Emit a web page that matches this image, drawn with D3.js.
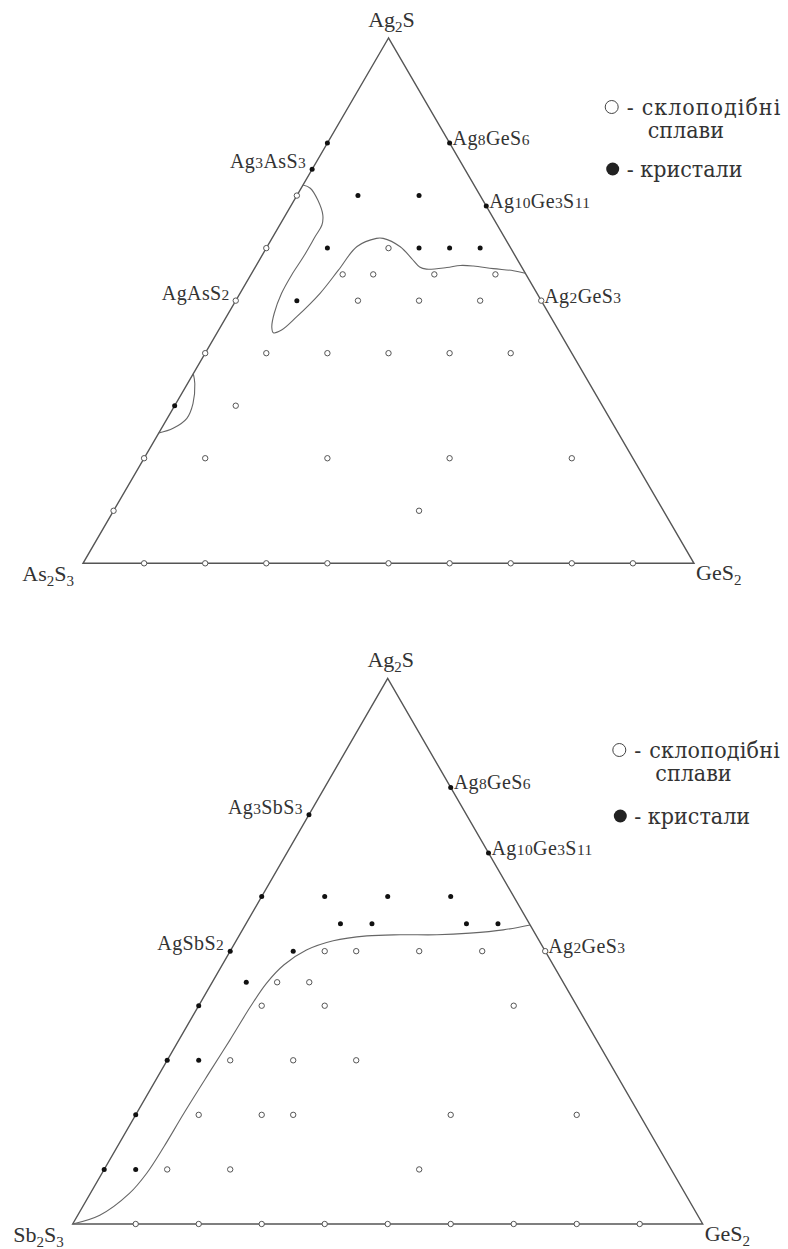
<!DOCTYPE html>
<html>
<head>
<meta charset="utf-8">
<script src="https://cdn.jsdelivr.net/npm/d3@7"></script>
<style>
  html, body { margin: 0; padding: 0; background: #fff; }
  svg { display: block; }
</style>
</head>
<body>
<script>
// Compositions are [Ag2S mol %, GeS2 mol %]; the rest is As2S3 (top) or Sb2S3 (bottom).

// ---- Ag2S – As2S3 – GeS2 ----
const glassAs = [
  [10, 0], [20, 0], [40, 0], [50, 0], [60, 0], [70, 0],
  [0, 10], [0, 20], [0, 30], [0, 40], [0, 50], [0, 60], [0, 70], [0, 80], [0, 90],
  [10, 50],
  [20, 10], [20, 30], [20, 50], [20, 70],
  [30, 10],
  [40, 10], [40, 20], [40, 30], [40, 40], [40, 50],
  [50, 20], [50, 30], [50, 40], [50, 50],
  [55, 15], [55, 20], [55, 30], [55, 40],
  [60, 20]
];
const crystalAs = [
  [30, 0], [75, 0], [80, 0],
  [50, 10],
  [60, 10], [60, 25], [60, 30], [60, 35],
  [70, 10], [70, 20],
  [80, 20], [68, 32]
];
// glass-forming region boundaries
const boundaryAsMain = [
  [72, 0], [71.4, 1.5], [69.1, 3.9], [66.3, 6.1], [64.4, 6.9], [62.2, 6.9], [58.3, 6.9],
  [54.9, 6.7], [51.4, 6.8], [47.6, 7.5], [45.0, 8.4], [43.9, 9.2], [44.4, 10.3],
  [46.9, 11.5], [51.4, 13.1], [55.8, 13.9], [60.3, 14.7], [61.85, 17.1], [61.85, 18.2],
  [60.25, 21.8], [58.0, 24.8], [56.4, 26.9], [56.0, 28.2], [56.3, 31.4], [56.7, 33.4],
  [56.6, 35.6], [56.1, 39.1], [55.7, 42.6], [55.2, 44.8]
];
const boundaryAsSmall = [
  [36.1, 0], [34.2, 1.2], [30.4, 2.8], [27.6, 3.2], [25.7, 1.9], [24.8, 0]
];
const labelsAs = [
  { name: "Ag3AsS3", at: [75, 0], side: "left" },
  { name: "AgAsS2", at: [50, 0], side: "left" },
  { name: "Ag8GeS6", at: [80, 20], side: "right" },
  { name: "Ag10Ge3S11", at: [68, 32], side: "right" },
  { name: "Ag2GeS3", at: [50, 50], side: "right" }
];

// ---- Ag2S – Sb2S3 – GeS2 ----
const glassSb = [
  [0, 10], [0, 20], [0, 30], [0, 40], [0, 50], [0, 60], [0, 70], [0, 80], [0, 90],
  [10, 10], [10, 20], [10, 50],
  [20, 10], [20, 20], [20, 25], [20, 50], [20, 70],
  [30, 10], [30, 20], [30, 30],
  [40, 10], [40, 20], [40, 50],
  [44.3, 10.3], [44.3, 15.4],
  [50, 15], [50, 20], [50, 30], [50, 40], [50, 50]
];
const crystalSb = [
  [10, 0], [20, 0], [30, 0], [40, 0], [50, 0], [60, 0], [75, 0],
  [10, 5], [30, 5], [44.3, 5.4],
  [50, 10],
  [55, 15], [55, 20], [55, 35], [55, 40],
  [60, 10], [60, 20], [60, 30],
  [80, 20], [68, 32]
];
const boundarySb = [
  [0, 0], [1.6, 3.5], [5.6, 6.2], [9.3, 7.1], [14.2, 7.4], [20.3, 7.5], [27.6, 7.8],
  [33.7, 8.1], [39.8, 8.3], [44.1, 8.7], [47.5, 9.8], [50.2, 12.0], [51.9, 15.4],
  [52.8, 20.3], [53.0, 25.5], [53.0, 31.3], [53.3, 36.4], [53.9, 41.4], [54.8, 45.2]
];
const labelsSb = [
  { name: "Ag3SbS3", at: [75, 0], side: "left" },
  { name: "AgSbS2", at: [50, 0], side: "left" },
  { name: "Ag8GeS6", at: [80, 20], side: "right" },
  { name: "Ag10Ge3S11", at: [68, 32], side: "right" },
  { name: "Ag2GeS3", at: [50, 50], side: "right" }
];

const legendGlass = ["-", "склоподібні", "сплави"];
const legendCrystal = "- кристали";

const FONT = "'Liberation Serif', 'Times New Roman', serif";
const CYR_FONT = "'DejaVu Serif Condensed', 'DejaVu Serif', serif";
const LINE = "#555";
const INK = "#333";

const svg = d3.select("body").append("svg")
  .attr("width", 788).attr("height", 1249)
  .attr("viewBox", "0 0 788 1249");
svg.append("rect").attr("width", 788).attr("height", 1249).attr("fill", "#fff");

// formula text: digits either subscripted (corner labels) or set small on the baseline (phase labels)
function formula(g, text, size, digitSize, sub) {
  const parts = text.match(/\d+|\D+/g);
  const t = g.append("text").attr("font-family", FONT).attr("fill", INK);
  let lowered = false;
  parts.forEach(p => {
    const isNum = /\d/.test(p);
    const ts = t.append("tspan").text(p).attr("font-size", isNum ? digitSize : size);
    if (sub) {
      if (isNum && !lowered) { ts.attr("dy", 5); lowered = true; }
      else if (!isNum && lowered) { ts.attr("dy", -5); lowered = false; }
    }
  });
  return t;
}

function panel(cfg) {
  const g = svg.append("g");
  const xs = d3.scaleLinear().domain([0, 1]).range([cfg.left, cfg.right]);
  const ys = d3.scaleLinear().domain([0, 1]).range([cfg.base, cfg.apex]);
  const px = d => xs(d[1] / 100 + d[0] / 200);
  const py = d => ys(d[0] / 100);

  // triangle
  const corners = [[100, 0], [0, 0], [0, 100]];
  g.append("path")
    .attr("d", d3.line().x(px).y(py)(corners) + "Z")
    .attr("fill", "none").attr("stroke", LINE).attr("stroke-width", 1.4)
    .attr("stroke-linejoin", "miter");

  // boundaries
  const curve = d3.line().x(px).y(py).curve(d3.curveCatmullRom.alpha(0.5));
  cfg.boundaries.forEach(b => {
    g.append("path").attr("d", curve(b))
      .attr("fill", "none").attr("stroke", "#666").attr("stroke-width", 1.1);
  });

  // samples
  g.selectAll("circle.glass").data(cfg.glass).join("circle")
    .attr("class", "glass")
    .attr("cx", px).attr("cy", py).attr("r", 2.7)
    .attr("fill", "#fff").attr("stroke", "#555").attr("stroke-width", 1);
  g.selectAll("circle.cryst").data(cfg.crystal).join("circle")
    .attr("class", "cryst")
    .attr("cx", px).attr("cy", py).attr("r", 2.5)
    .attr("fill", "#111");

  // phase labels
  cfg.labels.forEach(l => {
    const x = px(l.at), y = py(l.at);
    const t = formula(g, l.name, 20, 15.5, false).attr("letter-spacing", 0.4);
    if (l.side === "left") t.attr("x", x - 6).attr("y", y - 1).attr("text-anchor", "end");
    else t.attr("x", x + 3).attr("y", y + 2);
  });

  // corner labels
  formula(g, "Ag2S", 22, 15, true)
    .attr("x", px([100, 0]) + 3).attr("y", py([100, 0]) - 11).attr("text-anchor", "middle");
  formula(g, cfg.leftName, 22, 15, true)
    .attr("x", px([0, 0]) - 9).attr("y", py([0, 0]) + 18).attr("text-anchor", "end");
  formula(g, "GeS2", 22, 15, true)
    .attr("x", px([0, 100]) + 2).attr("y", py([0, 100]) + 17);

  // legend
  const lg = g.append("g").attr("transform", `translate(${cfg.legend[0]},${cfg.legend[1]})`);
  lg.append("circle").attr("cx", 0).attr("cy", 0).attr("r", 6.5)
    .attr("fill", "#fff").attr("stroke", "#444").attr("stroke-width", 1);
  const gt = lg.append("text")
    .attr("font-family", CYR_FONT).attr("font-size", 23).attr("fill", INK);
  gt.append("tspan").attr("x", 15).attr("y", 8).text(legendGlass[0]);
  gt.append("tspan").attr("x", 30).attr("y", 8).attr("letter-spacing", cfg.legendSpacing).text(legendGlass[1]);
  gt.append("tspan").attr("x", 36).attr("y", 31).attr("letter-spacing", 0).text(legendGlass[2]);
  lg.append("circle").attr("cx", 1).attr("cy", cfg.legendGap).attr("r", 6.5).attr("fill", "#222");
  lg.append("text").attr("x", 15).attr("y", cfg.legendGap + 8).text(legendCrystal)
    .attr("font-family", CYR_FONT).attr("font-size", 23).attr("fill", INK);
}

panel({
  left: 83, right: 694, base: 563.3, apex: 38,
  glass: glassAs, crystal: crystalAs,
  boundaries: [boundaryAsMain, boundaryAsSmall],
  labels: labelsAs, leftName: "As2S3",
  legend: [611.7, 107], legendGap: 62, legendSpacing: 1.0
});

panel({
  left: 72.7, right: 702.7, base: 1224, apex: 678.3,
  glass: glassSb, crystal: crystalSb,
  boundaries: [boundarySb],
  labels: labelsSb, leftName: "Sb2S3",
  legend: [619.3, 750], legendGap: 66, legendSpacing: 0.2
});
</script>
</body>
</html>
